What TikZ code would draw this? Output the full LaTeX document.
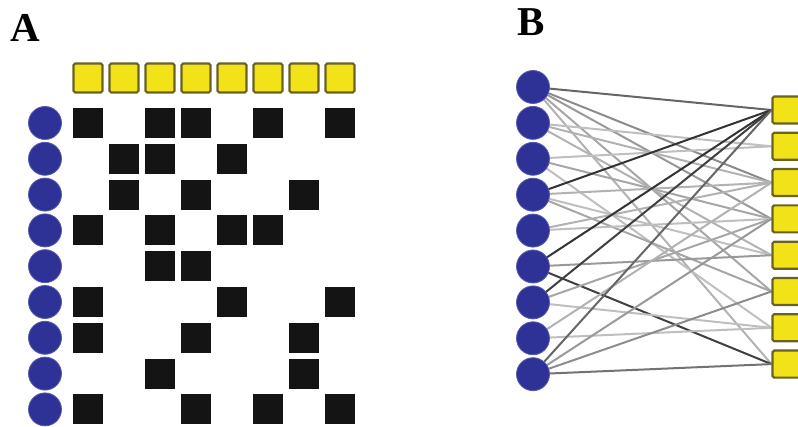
\documentclass[tikz,border=0pt]{standalone}
\usepackage{fontspec}
\setmainfont{Liberation Serif}
\usepackage{tikz}
\usetikzlibrary{positioning,backgrounds}
\definecolor{nodeblue}{RGB}{46,50,150}
\definecolor{boxyellow}{RGB}{242,226,24}
\definecolor{boxedge}{RGB}{105,98,35}

% row/column/shade of each link
\newcommand{\links}{1/1/60, 1/3/45, 1/4/40, 1/6/35, 1/8/30,
  2/2/25, 2/3/30, 2/5/30,
  3/2/25, 3/4/35, 3/7/25,
  4/1/80, 4/3/30, 4/5/25, 4/6/35,
  5/3/30, 5/4/25,
  6/1/80, 6/5/40, 6/8/75,
  7/1/75, 7/4/35, 7/7/25,
  8/3/30, 8/7/25,
  9/1/60, 9/4/40, 9/6/45, 9/8/55}

\begin{document}
\begin{tikzpicture}[
        x=0.5pt, y=-0.5pt,
        panel/.style={font=\fontsize{20.5}{24}\selectfont\bfseries},
        person/.style={circle, fill=nodeblue, draw=nodeblue!80, minimum size=16.5pt, inner sep=0pt},
        group/.style={draw=boxedge, line width=1.1pt, rounded corners=0.8pt, fill=boxyellow, minimum size=14.5pt, inner sep=0pt},
        cell/.style={fill=black!92, minimum size=15pt, inner sep=0pt},
        link/.style={line width=1pt}
    ]
    \useasboundingbox (0,0) rectangle (798,427);
    \node[panel] (labA) at (25,28) {A};
    \node[panel] (labB) at (531,22) {B};

    % panel A: incidence matrix
    \foreach \c in {1,...,8}
        \node[group] (ga\c) at ({88+36*(\c-1)},78) {};
    \foreach \r in {1,...,9}
        \node[person] (pa\r) at (45,{123+35.8*(\r-1)}) {};
    \foreach \r/\c/\s in \links
        \node[cell] (m\r-\c) at ({88+36*(\c-1)},{123+35.8*(\r-1)}) {};

    % panel B: bipartite network
    \foreach \c in {1,...,8}
        \node[group, minimum height=13.5pt] (gb\c) at (787,{110+36.3*(\c-1)}) {};
    \foreach \r in {1,...,9}
        \node[person] (pb\r) at (533,{87+35.9*(\r-1)}) {};
    \begin{pgfonlayer}{background}
    \foreach \r/\c/\s in \links
        \draw[link, black!\s] (pb\r.center) -- (gb\c.west);
    \end{pgfonlayer}
\end{tikzpicture}
\end{document}
